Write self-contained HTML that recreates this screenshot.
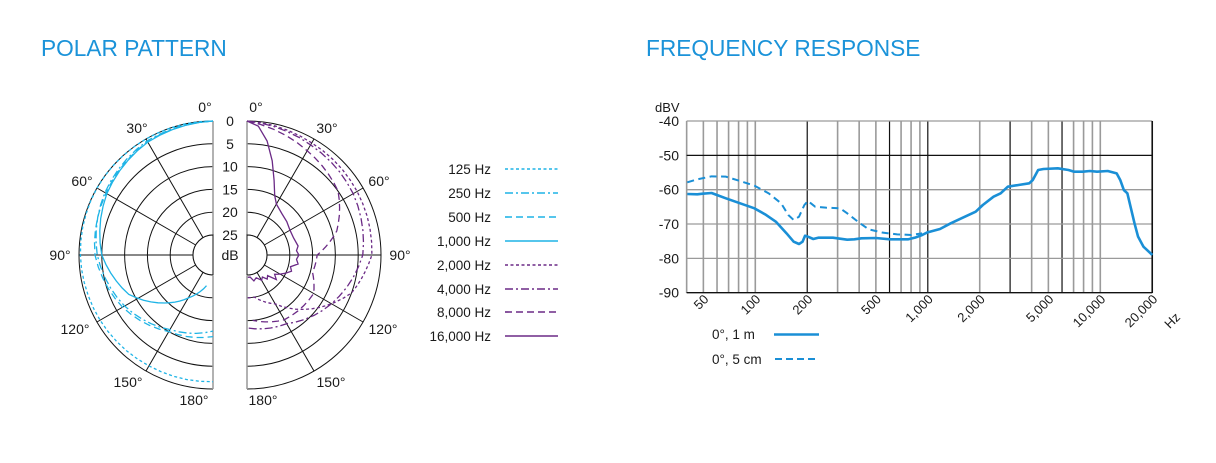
<!DOCTYPE html>
<html><head><meta charset="utf-8"><style>
html,body{margin:0;padding:0;background:#fff;width:1216px;height:463px;overflow:hidden}
svg{display:block}
text{font-family:"Liberation Sans",sans-serif;fill:#1a1a1a}
</style></head><body>
<svg id="s" width="1216" height="463" viewBox="0 0 1216 463" xmlns="http://www.w3.org/2000/svg">
<text x="41" y="56" font-size="22.7" style="fill:#1b93d9">POLAR PATTERN</text>
<text x="646" y="56" font-size="22.7" style="fill:#1b93d9">FREQUENCY RESPONSE</text>
<g id="polar" fill="none"></g>
<g id="freq"></g>
</svg>
<script>
var NS="http://www.w3.org/2000/svg";
function el(p,t,a,txt){var e=document.createElementNS(NS,t);for(var k in a)e.setAttribute(k,a[k]);if(txt!==undefined)e.textContent=txt;p.appendChild(e);return e;}
var P=document.getElementById('polar'),S=document.getElementById('s'),F=document.getElementById('freq');
var CY=255,LX=213,RX=247;
function R(d){return 134-4.56*d;}
[0,5,10,15,20,25].forEach(function(d){var r=R(d);
 el(P,'path',{d:'M'+LX+','+(CY-r)+' A'+r+','+r+' 0 0 0 '+LX+','+(CY+r),stroke:'#111','stroke-width':1});
 el(P,'path',{d:'M'+RX+','+(CY-r)+' A'+r+','+r+' 0 0 1 '+RX+','+(CY+r),stroke:'#111','stroke-width':1});
});
[30,60,90,120,150].forEach(function(a){var t=a*Math.PI/180,s=Math.sin(t),c=Math.cos(t);
 el(P,'line',{x1:LX-20*s,y1:CY-20*c,x2:LX-134*s,y2:CY-134*c,stroke:'#111','stroke-width':1});
 el(P,'line',{x1:RX+20*s,y1:CY-20*c,x2:RX+134*s,y2:CY-134*c,stroke:'#111','stroke-width':1});
});
[LX,RX].forEach(function(x){
 el(P,'line',{x1:x,y1:121,x2:x,y2:235,stroke:'#999','stroke-width':1.5});
 el(P,'line',{x1:x,y1:276,x2:x,y2:389,stroke:'#999','stroke-width':1.5});
});
var C='#1fb4e6',U='#6b2a86';
var dashes={dot:'3,2.5',dd:'8,3,2,3',da:'7,4',so:null};
function curve(side,pts,col,ds){var x0=side<0?LX:RX,d='';
 for(var i=0;i<pts.length;i++){var t=pts[i][0]*Math.PI/180,r=R(pts[i][1]);
  d+=(i?'L':'M')+(x0+side*r*Math.sin(t)).toFixed(1)+','+(CY-r*Math.cos(t)).toFixed(1);}
 var a={d:d,stroke:col,'stroke-width':1.3,fill:'none'};if(dashes[ds])a['stroke-dasharray']=dashes[ds];el(P,'path',a);}
function interp(k){var o=[];for(var i=0;i<k.length-1;i++){for(var s=0;s<5;s++){var f=s/5;o.push([k[i][0]+(k[i+1][0]-k[i][0])*f,k[i][1]+(k[i+1][1]-k[i][1])*f]);}}o.push(k[k.length-1]);return o;}
curve(-1,interp([[0,0],[30,0],[60,0],[90,0.3],[120,0.8],[150,1.3],[180,1.6]]),C,'dot');
curve(-1,interp([[0,0],[30,0.5],[60,2],[90,4],[120,7],[150,10.5],[180,12.7]]),C,'dd');
curve(-1,interp([[0,0],[30,0.7],[60,2.3],[90,3.5],[120,6.5],[150,10],[180,11.5]]),C,'da');
curve(-1,interp([[0,0],[30,0.8],[60,2.5],[90,5],[115,9],[135,14.5],[150,18.5],[168,22.5]]),C,'so');
curve(1,interp([[0,0],[30,1],[60,1.5],[90,2],[110,5],[130,11],[150,17],[170,20],[180,20]]),U,'dot');
curve(1,interp([[0,0],[30,1.5],[60,2.5],[90,4],[120,8],[150,12],[180,13.4]]),U,'dd');
curve(1,interp([[0,0],[30,3],[55,5],[75,9],[90,14],[105,14.5],[120,12.5],[150,13],[175,15]]),U,'da');
curve(1,[[0,0],[5,1],[10,4],[15,8],[20,12],[25,15],[30,16.5],[40,17.5],[50,18],[60,18.5],[70,18.5],[80,18],[85,18.5],[90,18],[95,18.5],[100,18],[105,19.5],[110,19],[115,20],[120,21],[125,22],[130,21],[135,23],[140,22.5],[145,23.5],[150,23],[158,24],[165,23.5],[172,24.5],[178,24.5]],U,'so');
el(P,'path',{d:'M'+LX+','+(CY-20)+' A20,20 0 0 0 '+LX+','+(CY+20)+'Z',fill:'#fff',stroke:'#111'});
el(P,'path',{d:'M'+RX+','+(CY-20)+' A20,20 0 0 1 '+RX+','+(CY+20)+'Z',fill:'#fff',stroke:'#111'});
[0,5,10,15,20,25].forEach(function(d){el(S,'text',{x:230,y:R(d)*-1+CY+5,'font-size':14,'text-anchor':'middle'},String(d));});
el(S,'text',{x:230,y:260,'font-size':14,'text-anchor':'middle'},'dB');
var lab=[['0°',205,112],['30°',137,133],['60°',82,186],['90°',60,260],['120°',75,334],['150°',128,387],['180°',194,405],
['0°',256,112],['30°',327,133],['60°',379,186],['90°',400,260],['120°',383,334],['150°',331,387],['180°',263,405]];
lab.forEach(function(l){el(S,'text',{x:l[1],y:l[2],'font-size':14,'text-anchor':'middle'},l[0]);});
var leg=[['125 Hz',C,'dot',169],['250 Hz',C,'dd',193],['500 Hz',C,'da',217],['1,000 Hz',C,'so',241],['2,000 Hz',U,'dot',265],['4,000 Hz',U,'dd',289],['8,000 Hz',U,'da',312],['16,000 Hz',U,'so',336]];
leg.forEach(function(l){el(S,'text',{x:491,y:l[3]+5,'font-size':13.5,'text-anchor':'end'},l[0]);
 var a={x1:505,y1:l[3],x2:558,y2:l[3],stroke:l[1],'stroke-width':1.6};if(dashes[l[2]])a['stroke-dasharray']=dashes[l[2]];el(S,'line',a);});
// Frequency
function X(f){return 755.3+172.5*Math.log10(f/100);}
function Y(db){return 121+(-40-db)*3.434;}
var fl=[40,50,60,70,80,90,100,200,300,400,500,600,700,800,900,1000,2000,3000,4000,5000,6000,7000,8000,9000,10000,20000];
var dark={200:1,600:1,1000:1,3000:1,6000:1,20000:1};
fl.forEach(function(f){el(F,'line',{x1:X(f),y1:121,x2:X(f),y2:293,stroke:dark[f]?'#111':'#9a9a9a','stroke-width':dark[f]?1.2:1.6});});
[-40,-50,-60,-70,-80,-90].forEach(function(d,i){el(F,'line',{x1:X(40),y1:Y(d),x2:X(20000),y2:Y(d),stroke:(d==-50||d==-90)?'#111':'#9a9a9a','stroke-width':1.3});
 el(F,'text',{x:679,y:Y(d)+5,'font-size':14,'text-anchor':'end'},String(d));});
el(F,'line',{x1:X(20000),y1:121,x2:X(20000),y2:293,stroke:'#111','stroke-width':1.6});
el(F,'text',{x:655,y:112,'font-size':13},'dBV');
[[50,'50'],[100,'100'],[200,'200'],[500,'500'],[1000,'1,000'],[2000,'2,000'],[5000,'5,000'],[10000,'10,000'],[20000,'20,000']].forEach(function(t){
 var x=X(t[0])+6,y=300;el(F,'text',{x:x,y:y,'font-size':13,'text-anchor':'end',transform:'rotate(-45 '+x+' '+y+')'},t[1]);});
el(F,'text',{x:1181,y:318,'font-size':13,'text-anchor':'end',transform:'rotate(-45 1181 318)'},'Hz');
var g=el(F,'g',{transform:'translate(640.2,95) scale(0.3569,0.33333)',fill:'none'});
var sol=[[132,297],[160,298],[175,296],[200,294],[215,300],[240,310],[280,325],[320,340],[350,358],[380,380],[410,415],[430,440],[445,447],[455,440],[462,422],[470,425],[485,432],[500,428],[540,428],[580,434],[600,433],[620,430],[660,429],[700,433],[750,433],[770,428],[790,420],[805,412],[840,402],[870,385],[900,370],[940,350],[960,330],[990,305],[1010,295],[1030,275],[1060,270],[1090,265],[1100,255],[1115,225],[1130,222],[1170,220],[1200,225],[1215,230],[1240,230],[1260,228],[1280,230],[1310,228],[1335,235],[1345,255],[1355,285],[1365,295],[1375,340],[1385,385],[1395,425],[1410,455],[1435,480]];
var das=[[132,262],[160,253],[200,244],[240,245],[280,258],[320,272],[360,295],[395,325],[415,360],[430,375],[445,365],[460,330],[470,318],[490,335],[520,338],[560,340],[580,355],[610,380],[640,403],[680,413],[720,418],[760,420],[790,415]];
function pd(a){return a.map(function(p,i){return (i?'L':'M')+p[0]+','+p[1];}).join('');}
el(g,'path',{d:pd(sol),stroke:'#1a8fd6','stroke-width':2.6,'vector-effect':'non-scaling-stroke','stroke-linejoin':'round'});
el(g,'path',{d:pd(das),stroke:'#1a8fd6','stroke-width':2,'vector-effect':'non-scaling-stroke','stroke-dasharray':'7,4.5'});
el(F,'text',{x:712,y:339,'font-size':13.5},'0°, 1 m');
el(F,'line',{x1:774,y1:334.5,x2:819,y2:334.5,stroke:'#1a8fd6','stroke-width':2.6});
el(F,'text',{x:712,y:364,'font-size':13.5},'0°, 5 cm');
el(F,'line',{x1:775,y1:359,x2:818,y2:359,stroke:'#1a8fd6','stroke-width':2,'stroke-dasharray':'7,4'});
</script>
</body></html>
